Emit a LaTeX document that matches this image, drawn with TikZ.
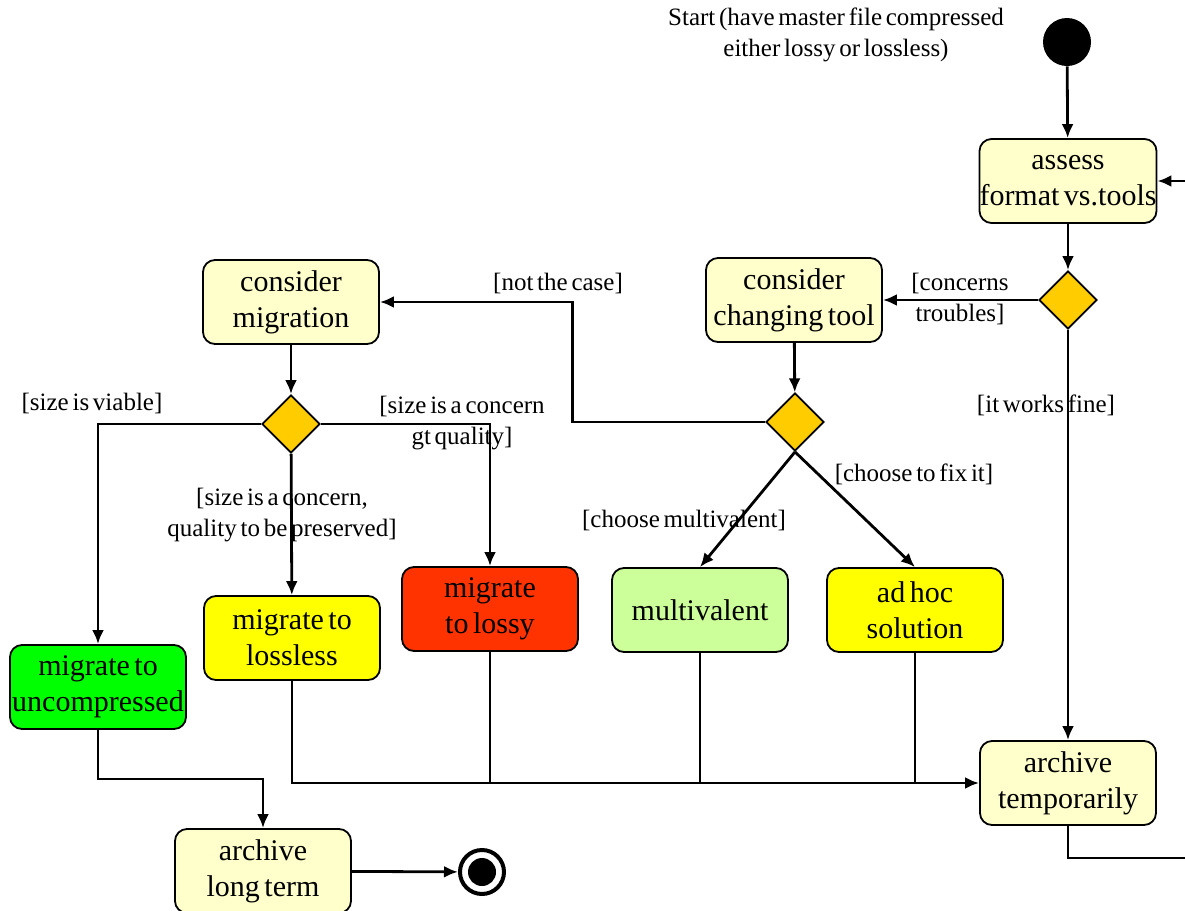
\documentclass[tikz,border=0pt]{standalone}
\usepackage{fontspec}
\setmainfont[WordSpace=0.6]{Liberation Serif}
\usetikzlibrary{arrows.meta}
\usetikzlibrary{shapes.geometric}
\definecolor{actyellow}{HTML}{FFFFCC}
\definecolor{decorange}{HTML}{FFCC00}
\definecolor{goodgreen}{HTML}{00FF00}
\definecolor{paleyellow}{HTML}{FFFF00}
\definecolor{badred}{HTML}{FF3300}
\definecolor{palegreen}{HTML}{CCFF99}
\tikzset{
	actstyle/.style={rectangle,rounded corners=6pt,draw=black,line width=0.9pt,fill=actyellow,minimum width=88pt,minimum height=42pt,inner sep=0pt,align=center,font=\fontsize{15}{18}\selectfont},
	decstyle/.style={diamond,draw=black,line width=0.9pt,fill=decorange,minimum width=29pt,minimum height=29pt,inner sep=0pt},
	guardstyle/.style={align=center,inner sep=0pt,font=\fontsize{12.5}{15.5}\selectfont},
	flowstyle/.style={line width=1.4pt,-{Latex[length=7pt,width=6pt]}},
	plainstyle/.style={line width=1.4pt}
}
\begin{document}
\begin{tikzpicture}[x=0.5pt,y=-0.5pt]
	\useasboundingbox (0,0) rectangle (1185,911);
	\node[circle,fill=black,minimum size=24pt,inner sep=0pt] (start) at (1067,42) {};
	\node[guardstyle] (startlabel) at (836,35) {Start (have master file compressed\\either lossy or lossless)};
	\node[actstyle] (assess) at (1068,181) {assess\\format vs.tools};
	\node[decstyle] (d1) at (1068,300) {};
	\node[actstyle] (changing) at (794,300) {consider\\changing tool};
	\node[decstyle] (d2) at (795,422) {};
	\node[actstyle] (migration) at (291,302) {consider\\migration};
	\node[decstyle] (d3) at (291,424) {};
	\node[actstyle,fill=goodgreen] (uncomp) at (98,687) {migrate to\\uncompressed};
	\node[actstyle,fill=paleyellow] (lossless) at (292,638) {migrate to\\lossless};
	\node[actstyle,fill=badred] (lossy) at (490,609) {migrate\\to lossy};
	\node[actstyle,fill=palegreen] (multi) at (700,610) {multivalent};
	\node[actstyle,fill=paleyellow] (adhoc) at (915,610) {ad hoc\\solution};
	\node[actstyle] (archtemp) at (1068,783) {archive\\temporarily};
	\node[actstyle] (longterm) at (263,871) {archive\\long term};
	\node[circle,draw=black,line width=2pt,minimum size=22pt,inner sep=0pt] (final) at (482,872) {};
	\node[circle,fill=black,minimum size=14pt,inner sep=0pt] (finaldot) at (final) {};
	% guards
	\node[guardstyle] (g1) at (960,299) {[concerns\\troubles]};
	\node[guardstyle] (g2) at (1046,405) {[it works fine]};
	\node[guardstyle] (g3) at (558,283) {[not the case]};
	\node[guardstyle] (g4) at (92,403) {[size is viable]};
	\node[guardstyle] (g5) at (462,423) {[size is a concern\\gt quality]};
	\node[guardstyle] (g6) at (282,515) {[size is a concern,\\quality to be preserved]};
	\node[guardstyle] (g7) at (684,520) {[choose multivalent]};
	\node[guardstyle] (g8) at (914,474) {[choose to fix it]};
	\coordinate (rin) at (1185,181);
	\coordinate (rout) at (1185,858);
	% flows
	\draw[flowstyle] (start)--(assess);
	\draw[flowstyle] (rin)--(assess.east);
	\draw[flowstyle] (assess)--(d1);
	\draw[flowstyle] (d1)--(changing);
	\draw[flowstyle] (d1)--(archtemp);
	\draw[plainstyle] (archtemp.south)|-(rout);
	\draw[flowstyle] (changing)--(d2);
	\draw[flowstyle] (d2.west)--++(-193,0)|-(migration.east);
	\draw[flowstyle] (migration)--(d3);
	\draw[flowstyle] (d3.west)-|(uncomp.north);
	\draw[flowstyle] (d3)--(lossless);
	\draw[flowstyle] (d3.east)-|(lossy.north);
	\draw[flowstyle] (d2.south)--(multi.north);
	\draw[flowstyle] (d2.south)--(adhoc.north);
	\draw[flowstyle] (lossless.south)|-(archtemp.west);
	\draw[plainstyle] (lossy.south)--(lossy.south|-archtemp.west);
	\draw[plainstyle] (multi.south)--(multi.south|-archtemp.west);
	\draw[plainstyle] (adhoc.south)--(adhoc.south|-archtemp.west);
	\draw[flowstyle] (uncomp.south)--++(0,49)-|(longterm.north);
	\draw[flowstyle] (longterm)--(final);
\end{tikzpicture}
\end{document}
